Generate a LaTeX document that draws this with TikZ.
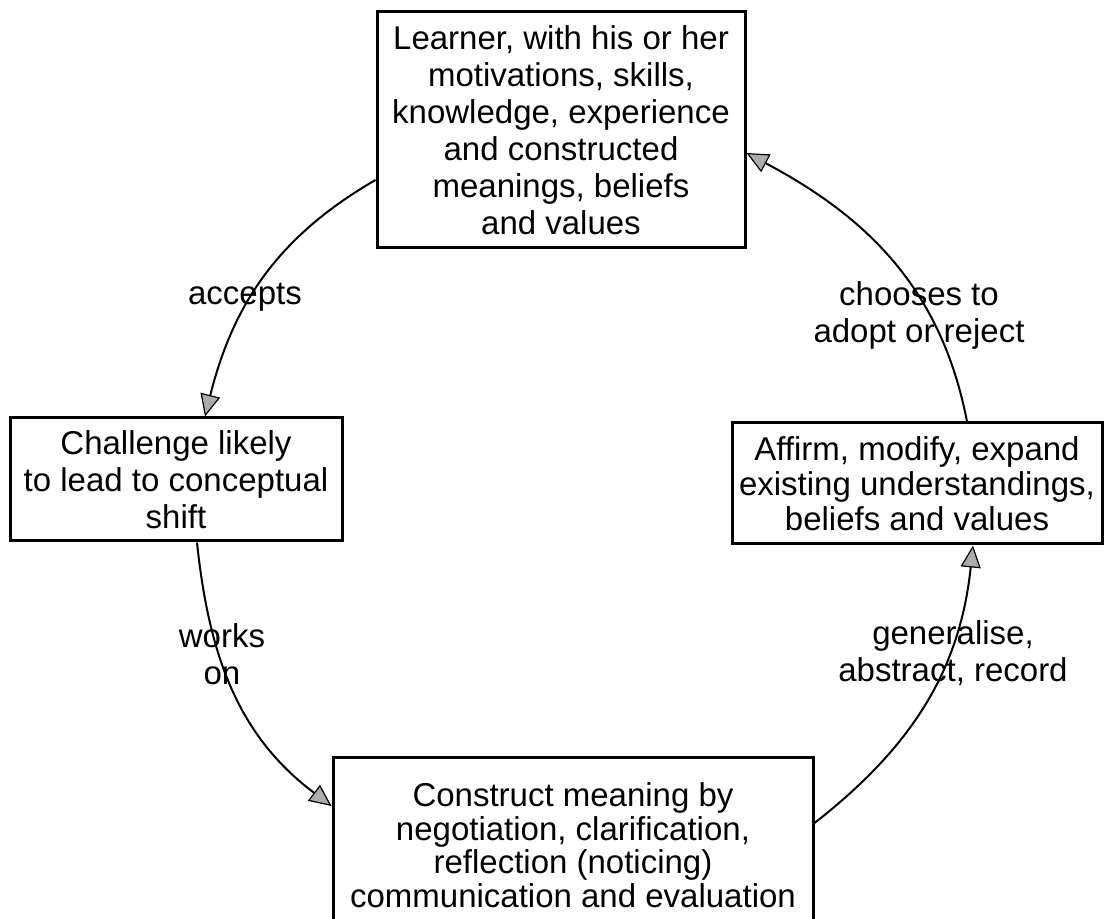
\documentclass[tikz,border=0pt]{standalone}
\usepackage{fontspec}
\setmainfont{Liberation Sans}
\usetikzlibrary{arrows.meta}
\begin{document}
\begin{tikzpicture}[x=1pt,y=1pt,
  box/.style={draw, line width=3pt, align=center, inner sep=0pt, font=\fontsize{33}{37}\selectfont},
  lbl/.style={align=center, inner sep=0pt, font=\fontsize{33}{37}\selectfont},
  conn/.style={line width=2pt, -{Triangle[length=22pt,width=20pt,fill=gray!65,line width=1.2pt]}}]
\useasboundingbox (0,0) rectangle (1104,919);
\clip (0,0) rectangle (1104,919);
\fill[white] (0,0) rectangle (1104,919);
\node[box, minimum width=368pt, minimum height=236pt] (learner) at (561,789)
  {Learner, with his or her\\motivations, skills,\\knowledge, experience\\and constructed\\meanings, beliefs\\and values};
\node[box, minimum width=332pt, minimum height=123pt] (challenge) at (176,439.5)
  {Challenge likely\\to lead to conceptual\\shift};
\node[box, minimum width=370pt, minimum height=121pt, font=\fontsize{33}{35}\selectfont] (affirm) at (917,435.5)
  {Affirm, modify, expand\\existing understandings,\\beliefs and values};
\node[box, minimum width=480pt, minimum height=174pt, font=\fontsize{33}{33.5}\selectfont] (construct) at (573,74)
  {Construct meaning by\\negotiation, clarification,\\reflection (noticing)\\communication and evaluation};
\draw[conn] ([yshift=-50pt]learner.west) to[out=210,in=76] ([xshift=29pt]challenge.north);
\draw[conn] ([xshift=21pt]challenge.south) to[out=-84,in=143] ([yshift=39pt]construct.west);
\draw[conn] ([yshift=22pt]construct.east) to[out=38,in=-96] ([xshift=56pt]affirm.south);
\draw[conn] ([xshift=50pt]affirm.north) to[out=101,in=-28] ([yshift=-23pt]learner.east);
\node[lbl] (accepts) at (245,622) {accepts};
\node[lbl] (works) at (222,265) {works\\on};
\node[lbl] (general) at (953,266) {generalise,\\abstract, record};
\node[lbl] (chooses) at (919,604) {chooses to\\adopt or reject};
\end{tikzpicture}
\end{document}
